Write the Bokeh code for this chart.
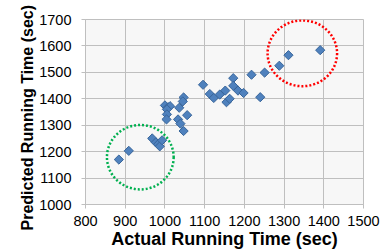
import numpy as np
from bokeh.plotting import figure
from bokeh.models import FixedTicker, Range1d, Title
from bokeh.embed import file_html
from bokeh.resources import INLINE

actual = [884, 909, 968, 977, 983, 987, 993,
          1000, 1008, 1013, 1005, 1005, 1004, 1033, 1039, 1036, 1047, 1045, 1056, 1047,
          1096, 1113, 1123, 1138, 1152, 1155, 1163, 1172, 1172, 1184, 1198, 1218, 1240,
          1251, 1288, 1311, 1391]
predicted = [1170, 1203, 1250, 1235, 1228, 1220, 1243,
             1375, 1368, 1372, 1360, 1341, 1322, 1322, 1306, 1366, 1405, 1390, 1338, 1278,
             1453, 1418, 1403, 1416, 1431, 1387, 1400, 1478, 1449, 1431, 1422, 1491, 1406,
             1499, 1525, 1565, 1584]

x_ticks = [800, 900, 1000, 1100, 1200, 1300, 1400, 1500]
y_ticks = [1000, 1100, 1200, 1300, 1400, 1500, 1600, 1700]

x_title = "Actual Running Time (sec)"
y_title = "Predicted Running Time (sec)"

# highlight circles: center x, center y, width, height (data units)
green_circle = (938, 1179, 168, 244)
red_circle = (1346, 1572, 175, 249)

W, H = 381, 251
p = figure(width=W, height=H, output_backend="svg", toolbar_location=None,
           x_range=Range1d(800, 1500), y_range=Range1d(1000, 1700),
           min_border_left=85, min_border_right=18, min_border_top=19, min_border_bottom=45)

p.background_fill_color = "#f7f7f7"
p.border_fill_color = "white"
p.outline_line_color = "#bfbfbf"

p.xaxis.ticker = FixedTicker(ticks=x_ticks)
p.yaxis.ticker = FixedTicker(ticks=y_ticks)
p.xgrid.ticker = FixedTicker(ticks=x_ticks)
p.ygrid.ticker = FixedTicker(ticks=y_ticks)
p.grid.grid_line_color = "#bfbfbf"
p.grid.grid_line_width = 1

for ax in (p.xaxis, p.yaxis):
    ax.axis_line_color = "#bfbfbf"
    ax.major_tick_line_color = "#bfbfbf"
    ax.major_tick_out = 4
    ax.major_tick_in = 0
    ax.minor_tick_line_color = None
    ax.major_label_text_font = "Liberation Sans"
    ax.major_label_text_font_size = "14.5px"
    ax.major_label_text_color = "black"

p.xaxis.major_label_standoff = 7
p.yaxis.major_label_standoff = 10

p.xaxis.axis_label = x_title
p.xaxis.axis_label_standoff = 0
p.xaxis.axis_label_text_font = "Liberation Sans"
p.xaxis.axis_label_text_font_style = "bold"
p.xaxis.axis_label_text_font_size = "18px"
p.xaxis.axis_label_text_color = "black"

yt = Title(text=y_title, align="left", offset=-26, vertical_align="middle",
           text_font="Liberation Sans", text_font_style="bold",
           text_font_size="16px", text_color="black", standoff=0)
p.add_layout(yt, "left")

p.scatter(actual, predicted, marker="square", angle=np.pi / 4, size=6.5,
          fill_color="#4f81bd", line_color="#38659a", line_width=1)

p.ellipse(x=[green_circle[0]], y=[green_circle[1]], width=[green_circle[2]],
          height=[green_circle[3]], fill_color=None, line_color="#00b050",
          line_width=2.5, line_dash="2 2")
p.ellipse(x=[red_circle[0]], y=[red_circle[1]], width=[red_circle[2]],
          height=[red_circle[3]], fill_color=None, line_color="#ff0000",
          line_width=2.5, line_dash="2 2")

open("out.html", "w").write(file_html(p, INLINE))
